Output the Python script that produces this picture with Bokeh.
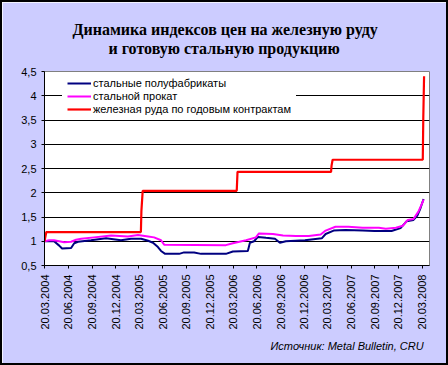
import math
import pandas as pd
from bokeh.plotting import figure
from bokeh.models import (FixedTicker, DatetimeTickFormatter, CustomJSTickFormatter,
                          Legend, LegendItem, Title, Range1d)
from bokeh.embed import file_html
from bokeh.resources import INLINE

# ---- data ----
semi_dates = ["2004-03-20", "2004-04-26", "2004-05-16", "2004-05-27", "2004-07-01", "2004-07-13",
              "2004-07-28", "2004-09-16", "2004-11-13", "2005-01-10", "2005-02-18", "2005-03-29",
              "2005-04-25", "2005-05-14", "2005-06-02", "2005-06-14", "2005-06-30", "2005-08-23",
              "2005-09-11", "2005-10-20", "2005-11-16", "2006-02-20", "2006-03-19", "2006-05-16",
              "2006-05-24", "2006-06-09", "2006-06-24", "2006-07-25", "2006-08-29", "2006-09-17",
              "2006-10-10", "2006-12-23", "2007-02-26", "2007-03-13", "2007-04-13", "2007-05-29",
              "2007-08-03", "2007-09-18", "2007-11-23", "2007-12-28", "2008-01-20", "2008-02-16",
              "2008-03-02", "2008-03-14", "2008-03-26"]
semi_vals = [1.00, 1.00, 0.91, 0.85, 0.86, 0.96,
             0.99, 1.02, 1.06, 1.02, 1.05, 1.05,
             1.01, 0.97, 0.88, 0.80, 0.74, 0.74,
             0.77, 0.77, 0.74, 0.74, 0.79, 0.80,
             0.97, 1.00, 1.09, 1.07, 1.05, 0.97,
             1.00, 1.02, 1.06, 1.15, 1.22, 1.23,
             1.22, 1.21, 1.21, 1.27, 1.41, 1.44,
             1.53, 1.68, 1.87]

rolled_dates = ["2004-03-20", "2004-04-07", "2004-04-26", "2004-06-04", "2004-07-01", "2004-07-20",
                "2004-08-09", "2004-09-28", "2004-12-03", "2005-02-06", "2005-03-17", "2005-04-25",
                "2005-05-18", "2005-06-14", "2005-06-26", "2006-02-20", "2006-03-19", "2006-05-09",
                "2006-06-16", "2006-06-28", "2006-08-21", "2006-09-29", "2006-11-18", "2007-01-07",
                "2007-02-22", "2007-03-13", "2007-04-20", "2007-06-09", "2007-08-03", "2007-10-05",
                "2007-11-01", "2007-12-10", "2008-01-06", "2008-01-25", "2008-02-16", "2008-03-06",
                "2008-03-22", "2008-03-26"]
rolled_vals = [1.00, 1.02, 1.02, 0.98, 0.99, 1.03,
               1.05, 1.08, 1.12, 1.10, 1.13, 1.10,
               1.08, 1.02, 0.93, 0.92, 0.96, 1.02,
               1.08, 1.16, 1.15, 1.12, 1.11, 1.11,
               1.14, 1.22, 1.30, 1.30, 1.28, 1.28,
               1.26, 1.28, 1.32, 1.44, 1.46, 1.61,
               1.80, 1.86]

ore_dates = ["2004-03-20", "2004-03-27", "2005-03-28", "2005-03-30", "2005-04-04", "2006-04-03",
             "2006-04-06", "2007-04-03", "2007-04-05", "2007-04-09", "2008-03-23", "2008-03-25",
             "2008-03-28"]
ore_vals = [1.00, 1.19, 1.19, 1.62, 2.04, 2.04,
            2.43, 2.43, 2.56, 2.68, 2.68, 3.55,
            4.40]

tick_labels = ["20.03.2004", "20.06.2004", "20.09.2004", "20.12.2004",
               "20.03.2005", "20.06.2005", "20.09.2005", "20.12.2005",
               "20.03.2006", "20.06.2006", "20.09.2006", "20.12.2006",
               "20.03.2007", "20.06.2007", "20.09.2007", "20.12.2007",
               "20.03.2008"]
y_ticks = [0.5, 1.0, 1.5, 2.0, 2.5, 3.0, 3.5, 4.0, 4.5]

series_names = ["стальные полуфабрикаты", "стальной прокат", "железная руда по годовым контрактам"]
title_lines = ["Динамика индексов цен на железную руду", "и готовую стальную продукцию"]
source_text = "Источник: Metal Bulletin, CRU"

# ---- figure ----
def ms(d):
    return pd.Timestamp(d).value / 1e6

tick_ms = [pd.Timestamp(pd.to_datetime(t, format="%d.%m.%Y")).value / 1e6 for t in tick_labels]

p = figure(frame_width=385, frame_height=194, x_axis_type="datetime", output_backend="svg",
           toolbar_location=None, title_location=None,
           x_range=Range1d(ms("2004-03-20"), ms("2008-04-18")),
           y_range=Range1d(0.5, 4.5),
           min_border_left=42, min_border_right=17, min_border_top=69, min_border_bottom=98)

p.background_fill_color = "white"
p.border_fill_color = "#CCCCFF"
p.outline_line_color = "#808080"
p.outline_line_width = 1
p.styles = {"border": "2px solid black"}

p.xgrid.grid_line_color = None
p.ygrid.grid_line_color = "black"
p.ygrid.grid_line_width = 1
p.ygrid.ticker = FixedTicker(ticks=y_ticks)

p.yaxis.ticker = FixedTicker(ticks=y_ticks)
p.yaxis.formatter = CustomJSTickFormatter(code="return tick.toString().replace('.', ',');")
p.xaxis.ticker = FixedTicker(ticks=tick_ms)
fmt = "%d.%m.%Y"
p.xaxis.formatter = DatetimeTickFormatter(microseconds=fmt, milliseconds=fmt, seconds=fmt,
                                          minsec=fmt, minutes=fmt, hourmin=fmt, hours=fmt,
                                          days=fmt, months=fmt, years=fmt)
p.xaxis.major_label_orientation = math.pi / 2

for ax in (p.xaxis[0], p.yaxis[0]):
    ax.axis_line_color = "black"
    ax.axis_line_width = 1
    ax.major_tick_line_color = "black"
    ax.major_tick_in = 0
    ax.major_tick_out = 3
    ax.minor_tick_line_color = None
    ax.major_label_text_font = "Liberation Sans"
    ax.major_label_text_font_size = "11px"
    ax.major_label_text_color = "black"
p.yaxis.major_label_standoff = 5
p.xaxis.major_label_standoff = 6

r1 = p.line(pd.to_datetime(semi_dates), semi_vals, line_color="#000080", line_width=2)
r2 = p.line(pd.to_datetime(rolled_dates), rolled_vals, line_color="#FF00FF", line_width=2)
r3 = p.line(pd.to_datetime(ore_dates), ore_vals, line_color="#FF0000", line_width=2.2)

legend = Legend(items=[LegendItem(label=series_names[0], renderers=[r1]),
                       LegendItem(label=series_names[1], renderers=[r2]),
                       LegendItem(label=series_names[2], renderers=[r3])],
                location=(18, 145), orientation="vertical")
legend.background_fill_color = "white"
legend.background_fill_alpha = 1
legend.border_line_alpha = 0
legend.label_text_font = "Liberation Sans"
legend.label_text_font_size = "11px"
legend.label_text_color = "black"
legend.glyph_width = 24
legend.glyph_height = 12
legend.label_height = 12
legend.label_standoff = 2
legend.spacing = 1
legend.padding = 5
legend.margin = 0
p.add_layout(legend, "center")

# titles: the first one added sits closest to the frame
p.add_layout(Title(text=title_lines[1], align="left", offset=64, standoff=30,
                   text_font="Liberation Serif", text_font_style="bold",
                   text_font_size="16px", text_color="black"), "above")
p.add_layout(Title(text=title_lines[0], align="left", offset=28, standoff=-30,
                   text_font="Liberation Serif", text_font_style="bold",
                   text_font_size="16px", text_color="black"), "above")

p.add_layout(Title(text=source_text, align="left", offset=226, standoff=11,
                   text_font="Liberation Sans", text_font_style="italic",
                   text_font_size="11px", text_color="black"), "below")

open("out.html", "w").write(file_html(p, INLINE))
